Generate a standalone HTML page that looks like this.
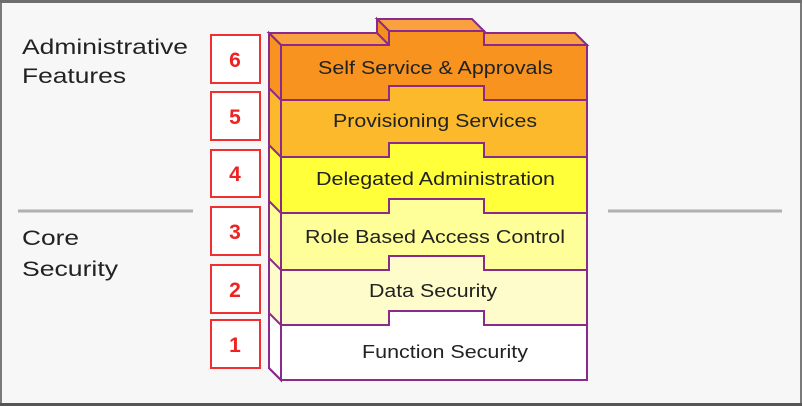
<!DOCTYPE html>
<html><head><style>
html,body{margin:0;padding:0;background:#fff;}
</style></head><body>
<svg width="802" height="406" xmlns="http://www.w3.org/2000/svg" style="display:block;font-family:'Liberation Sans',sans-serif">
<rect x="1" y="1" width="800" height="403" fill="#f7f7f7" stroke="#7a7a7a" stroke-width="2"/>
<rect x="0" y="0" width="802" height="3" fill="#6e6e6e"/>
<rect x="0" y="403" width="802" height="3" fill="#555"/>
<text x="22" y="54" font-size="21" fill="#222" textLength="166" lengthAdjust="spacingAndGlyphs">Administrative</text>
<text x="22" y="83" font-size="21" fill="#222" textLength="104" lengthAdjust="spacingAndGlyphs">Features</text>
<text x="22" y="245" font-size="21" fill="#222" textLength="57" lengthAdjust="spacingAndGlyphs">Core</text>
<text x="22" y="276" font-size="21" fill="#222" textLength="96" lengthAdjust="spacingAndGlyphs">Security</text>
<line x1="18" y1="211" x2="193" y2="211" stroke="#b0b0b0" stroke-width="3"/>
<line x1="608" y1="211" x2="782" y2="211" stroke="#b0b0b0" stroke-width="3"/>
<g stroke="#8a2a8a" stroke-width="2" stroke-linejoin="miter">
<polygon points="269,33 377,33 389,45 281,45" fill="#f9a040"/>
<polygon points="377,19 472,19 484,31 389,31" fill="#f9a040"/>
<polygon points="472,33 575,33 587,45 484,45" fill="#f9a040"/>
<polygon points="377,19 389,31 389,45 377,33" fill="#f68e1e"/>
<polygon points="269,33 281,45 281,380 269,368" fill="#f7931e"/>
<polygon points="281,45 389,45 389,31 484,31 484,45 587,45 587,380 281,380" fill="#f7931e"/>
<polygon points="269,88 281,100 281,380 269,368" fill="#fcb92c"/>
<polygon points="281,100 389,100 389,86 484,86 484,100 587,100 587,380 281,380" fill="#fcb92c"/>
<polygon points="269,145 281,157 281,380 269,368" fill="#ffff3a"/>
<polygon points="281,157 389,157 389,143 484,143 484,157 587,157 587,380 281,380" fill="#ffff3a"/>
<polygon points="269,201 281,213 281,380 269,368" fill="#ffff99"/>
<polygon points="281,213 389,213 389,199 484,199 484,213 587,213 587,380 281,380" fill="#ffff99"/>
<polygon points="269,258 281,270 281,380 269,368" fill="#fffccc"/>
<polygon points="281,270 389,270 389,256 484,256 484,270 587,270 587,380 281,380" fill="#fffccc"/>
<polygon points="269,313 281,325 281,380 269,368" fill="#ffffff"/>
<polygon points="281,325 389,325 389,311 484,311 484,325 587,325 587,380 281,380" fill="#ffffff"/>
</g>
<g font-size="18" fill="#222" lengthAdjust="spacingAndGlyphs">
<text x="318" y="74" textLength="235" lengthAdjust="spacingAndGlyphs">Self Service &amp; Approvals</text>
<text x="333" y="127" textLength="204" lengthAdjust="spacingAndGlyphs">Provisioning Services</text>
<text x="316" y="185" textLength="239" lengthAdjust="spacingAndGlyphs">Delegated Administration</text>
<text x="305" y="243" textLength="260" lengthAdjust="spacingAndGlyphs">Role Based Access Control</text>
<text x="369" y="297" textLength="128" lengthAdjust="spacingAndGlyphs">Data Security</text>
<text x="362" y="358" textLength="166" lengthAdjust="spacingAndGlyphs">Function Security</text>
</g>
<g fill="#fff" stroke="#f03030" stroke-width="2">
<rect x="211" y="35" width="49" height="48"/>
<rect x="211" y="92" width="49" height="48"/>
<rect x="211" y="150" width="49" height="47"/>
<rect x="211" y="207" width="49" height="48"/>
<rect x="211" y="265" width="49" height="48"/>
<rect x="211" y="320" width="49" height="48"/>
</g>
<g font-size="21" font-weight="bold" fill="#ee2222" text-anchor="middle">
<text x="235" y="67">6</text>
<text x="235" y="124">5</text>
<text x="235" y="181">4</text>
<text x="235" y="239">3</text>
<text x="235" y="297">2</text>
<text x="235" y="352">1</text>
</g>
</svg>
</body></html>
